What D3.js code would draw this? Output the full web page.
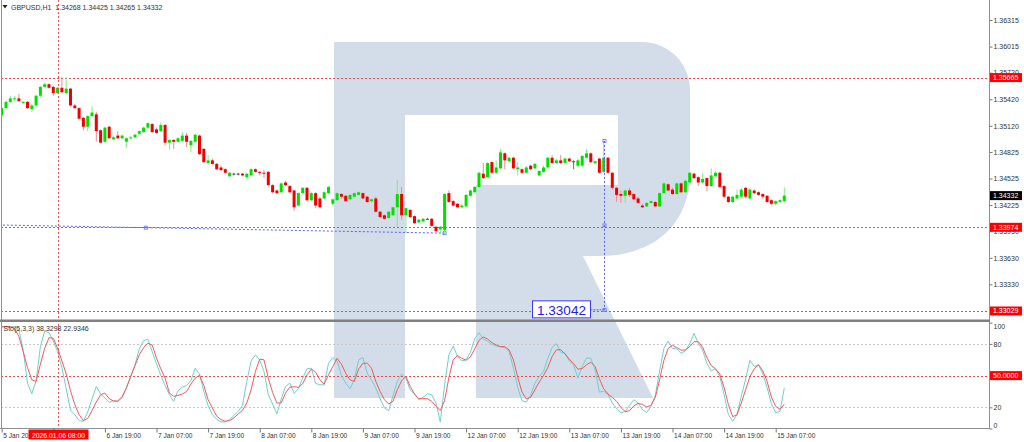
<!DOCTYPE html>
<html><head><meta charset="utf-8">
<script src="https://cdn.jsdelivr.net/npm/d3@7"></script>
<style>html,body{margin:0;padding:0;background:#fff;overflow:hidden}svg{display:block}text{font-family:"Liberation Sans",Arial,sans-serif}</style>
</head><body><svg id="c" width="1024" height="442"></svg>
<script>
const opens=[1.3524,1.3532,1.3539,1.3542,1.3543,1.3538,1.3539,1.3531,1.3535,1.3546,
1.3556,1.3559,1.3556,1.3549,1.3555,1.3549,1.3554,1.3535,1.3532,1.3521,
1.3511,1.3523,1.3525,1.3507,1.3494,1.3511,1.3497,1.3501,1.3498,1.3494,
1.3498,1.3499,1.3503,1.3505,1.3510,1.3514,1.3508,1.3506,1.3513,1.3493,
1.3496,1.3494,1.3495,1.3501,1.3490,1.3494,1.3501,1.3486,1.3470,1.3473,
1.3469,1.3465,1.3463,1.3455,1.3458,1.3458,1.3458,1.3454,1.3456,1.3463,
1.3460,1.3459,1.3460,1.3445,1.3439,1.3437,1.3448,1.3444,1.3439,1.3422,
1.3436,1.3442,1.3428,1.3436,1.3430,1.3430,1.3436,1.3424,1.3428,1.3435,
1.3433,1.3429,1.3432,1.3434,1.3436,1.3432,1.3427,1.3430,1.3415,1.3411,
1.3408,1.3411,1.3420,1.3435,1.3411,1.3417,1.3410,1.3403,1.3404,1.3407,
1.3407,1.3398,1.3395,1.3394,1.3436,1.3427,1.3424,1.3420,1.3421,1.3433,
1.3437,1.3443,1.3458,1.3454,1.3471,1.3459,1.3464,1.3481,1.3472,1.3476,
1.3463,1.3463,1.3459,1.3467,1.3464,1.3456,1.3460,1.3465,1.3476,1.3470,
1.3473,1.3470,1.3475,1.3472,1.3467,1.3467,1.3476,1.3481,1.3470,1.3475,
1.3460,1.3476,1.3459,1.3442,1.3435,1.3433,1.3439,1.3435,1.3430,1.3422,
1.3421,1.3425,1.3426,1.3421,1.3436,1.3446,1.3440,1.3435,1.3447,1.3437,
1.3448,1.3458,1.3454,1.3448,1.3453,1.3444,1.3455,1.3459,1.3444,1.3432,
1.3426,1.3430,1.3432,1.3442,1.3430,1.3439,1.3437,1.3435,1.3433,1.3428,
1.3424,1.3426,1.34268];
const highs=[1.3533,1.3541,1.3546,1.3546,1.3548,1.3540,1.3540,1.3537,1.3547,1.3557,
1.3561,1.3560,1.3557,1.3556,1.3567,1.3567,1.3555,1.3537,1.3533,1.3522,
1.3524,1.3534,1.3528,1.3508,1.3511,1.3512,1.3501,1.3506,1.3502,1.3499,
1.3501,1.3503,1.3507,1.3511,1.3516,1.3515,1.3510,1.3516,1.3514,1.3497,
1.3497,1.3499,1.3505,1.3504,1.3496,1.3503,1.3502,1.3487,1.3479,1.3475,
1.3470,1.3467,1.3464,1.3460,1.3459,1.3459,1.3459,1.3459,1.3464,1.3464,
1.3461,1.3462,1.3461,1.3446,1.3440,1.3448,1.3450,1.3445,1.3440,1.3437,
1.3443,1.3443,1.3437,1.3437,1.3432,1.3438,1.3444,1.3430,1.3437,1.3436,
1.3434,1.3435,1.3437,1.3438,1.3437,1.3433,1.3430,1.3432,1.3416,1.3412,
1.3416,1.3421,1.3451,1.3443,1.3420,1.3418,1.3411,1.3407,1.3408,1.3408,
1.3408,1.3399,1.3399,1.3436,1.3439,1.3428,1.3425,1.3424,1.3435,1.3440,
1.3444,1.3460,1.3470,1.3471,1.3472,1.3473,1.3486,1.3482,1.3477,1.3477,
1.3471,1.3464,1.3467,1.3468,1.3470,1.3462,1.3467,1.3477,1.3479,1.3475,
1.3479,1.3476,1.3476,1.3473,1.3475,1.3479,1.3486,1.3482,1.3473,1.3476,
1.3495,1.3477,1.3460,1.3443,1.3439,1.3440,1.3442,1.3436,1.3432,1.3424,
1.3426,1.3428,1.3427,1.3437,1.3448,1.3447,1.3442,1.3448,1.3448,1.3451,
1.3460,1.3459,1.3455,1.3459,1.3454,1.3464,1.3461,1.3460,1.3445,1.3433,
1.3433,1.3440,1.3442,1.3443,1.3442,1.3440,1.3438,1.3436,1.3434,1.3429,
1.3428,1.3429,1.34425];
const lows=[1.3522,1.3530,1.3538,1.3540,1.3539,1.3537,1.3531,1.3528,1.3534,1.3544,
1.3555,1.3554,1.3546,1.3548,1.3549,1.3548,1.3534,1.3531,1.3519,1.3507,
1.3506,1.3522,1.3494,1.3492,1.3493,1.3497,1.3496,1.3497,1.3497,1.3487,
1.3497,1.3498,1.3502,1.3504,1.3508,1.3504,1.3503,1.3505,1.3490,1.3485,
1.3486,1.3493,1.3494,1.3488,1.3482,1.3493,1.3479,1.3470,1.3469,1.3468,
1.3462,1.3461,1.3458,1.3454,1.3456,1.3456,1.3455,1.3451,1.3455,1.3459,
1.3456,1.3453,1.3444,1.3436,1.3435,1.3436,1.3444,1.3436,1.3416,1.3421,
1.3435,1.3427,1.3427,1.3419,1.3419,1.3429,1.3435,1.3422,1.3427,1.3430,
1.3426,1.3428,1.3430,1.3433,1.3429,1.3425,1.3426,1.3414,1.3408,1.3406,
1.3407,1.3410,1.3398,1.3406,1.3391,1.3408,1.3401,1.3402,1.3403,1.3406,
1.3398,1.3392,1.3391,1.3391,1.3425,1.3421,1.3419,1.3419,1.3420,1.3432,
1.3436,1.3442,1.3452,1.3453,1.3458,1.3458,1.3463,1.3463,1.3471,1.3463,
1.3456,1.3458,1.3458,1.3462,1.3463,1.3455,1.3459,1.3464,1.3469,1.3469,
1.3469,1.3469,1.3471,1.3463,1.3465,1.3465,1.3475,1.3470,1.3469,1.3458,
1.3459,1.3458,1.3440,1.3426,1.3425,1.3425,1.3432,1.3428,1.3424,1.3419,
1.3420,1.3424,1.3420,1.3420,1.3435,1.3438,1.3434,1.3434,1.3436,1.3436,
1.3447,1.3452,1.3444,1.3447,1.3438,1.3443,1.3454,1.3442,1.3430,1.3425,
1.3425,1.3429,1.3430,1.3430,1.3429,1.3435,1.3433,1.3430,1.3425,1.3422,
1.3422,1.3425,1.34265];
const closes=[1.3532,1.3539,1.3543,1.3543,1.3540,1.3539,1.3532,1.3535,1.3546,1.3556,
1.3559,1.3555,1.3549,1.3555,1.3550,1.3554,1.3535,1.3532,1.3520,1.3511,
1.3523,1.3527,1.3506,1.3493,1.3510,1.3498,1.3499,1.3498,1.3501,1.3498,
1.3499,1.3502,1.3506,1.3510,1.3515,1.3505,1.3504,1.3513,1.3493,1.3496,
1.3494,1.3498,1.3501,1.3494,1.3495,1.3502,1.3480,1.3471,1.3473,1.3469,
1.3463,1.3462,1.3459,1.3459,1.3458,1.3458,1.3456,1.3458,1.3463,1.3460,
1.3459,1.3458,1.3445,1.3437,1.3436,1.3447,1.3445,1.3437,1.3420,1.3436,
1.3442,1.3428,1.3436,1.3422,1.3420,1.3437,1.3443,1.3429,1.3436,1.3432,
1.3427,1.3434,1.3436,1.3437,1.3430,1.3426,1.3429,1.3415,1.3409,1.3407,
1.3415,1.3420,1.3435,1.3411,1.3419,1.3409,1.3402,1.3406,1.3407,1.3407,
1.3399,1.3393,1.3398,1.3435,1.3426,1.3422,1.3420,1.3422,1.3434,1.3439,
1.3443,1.3459,1.3453,1.3470,1.3459,1.3465,1.3482,1.3473,1.3476,1.3464,
1.3465,1.3459,1.3465,1.3463,1.3469,1.3461,1.3465,1.3476,1.3470,1.3473,
1.3470,1.3475,1.3472,1.3472,1.3473,1.3478,1.3481,1.3471,1.3472,1.3459,
1.3476,1.3459,1.3442,1.3434,1.3433,1.3439,1.3434,1.3429,1.3425,1.3420,
1.3425,1.3427,1.3421,1.3436,1.3447,1.3439,1.3435,1.3447,1.3437,1.3450,
1.3459,1.3453,1.3448,1.3452,1.3444,1.3456,1.3459,1.3443,1.3432,1.3426,
1.3432,1.3434,1.3440,1.3432,1.3440,1.3436,1.3434,1.3432,1.3426,1.3424,
1.3427,1.3428,1.34332];
const stochK=[96.2,96.2,96.2,96.2,93.1,74.3,42.9,32.9,45.1,77.4,
92.1,90.6,82.7,72.7,57.6,37.6,17.2,13.1,7.5,6.8,
15.6,27.9,39.8,32.6,28.8,24.7,26.3,26.0,30.4,38.8,
48.9,60.2,75.2,83.1,84.3,72.7,61.1,50.1,40.7,31.9,
25.7,35.7,39.1,40.7,45.1,57.0,51.4,35.1,21.6,13.1,
8.7,6.2,6.2,8.4,12.2,16.3,21.9,44.5,63.9,69.6,
64.9,53.9,31.9,23.2,13.7,27.9,39.8,42.9,33.2,37.6,
47.6,56.4,57.0,42.6,41.3,41.3,61.7,67.1,63.9,50.1,
42.9,37.6,46.0,64.9,67.1,52.3,45.7,38.2,28.2,19.4,
16.9,31.0,44.5,51.4,47.6,36.3,32.6,27.2,29.4,32.9,
31.9,24.1,6.2,41.3,69.6,78.0,68.0,63.9,64.9,72.1,
84.6,90.6,84.6,82.4,79.6,78.0,77.1,76.2,72.7,57.0,
38.8,26.3,25.0,31.3,42.9,48.9,53.9,66.4,76.5,80.2,
72.1,71.1,63.9,60.2,47.6,58.6,66.7,66.4,55.5,34.4,
35.1,31.9,24.1,18.8,14.7,16.3,21.9,27.2,24.1,17.8,
15.3,20.9,31.3,54.5,75.8,82.7,75.8,75.2,71.1,73.3,
80.2,90.0,80.5,74.0,61.7,54.5,56.4,49.2,31.9,13.1,
6.8,13.1,30.4,46.7,64.5,58.6,60.2,51.7,38.8,23.5,
14.7,16.3,38.33];
const stochD=[96.2,96.2,96.2,94.7,86.8,72.7,57.6,46.0,44.5,60.8,
75.8,85.9,85.2,75.8,63.9,51.7,35.7,22.5,13.1,7.5,
9.4,16.9,25.0,31.9,33.5,28.2,26.0,25.7,29.4,38.2,
49.2,59.5,69.6,76.5,80.5,79.0,66.4,56.4,47.6,33.5,
30.4,31.3,32.6,35.1,42.0,47.6,50.4,40.7,27.2,19.4,
11.6,8.4,6.8,7.5,10.0,13.7,17.2,24.1,36.6,53.9,
65.5,64.9,47.6,34.1,24.1,24.1,33.5,39.1,39.5,38.8,
42.3,50.8,56.1,53.3,46.0,42.0,50.8,58.6,66.4,60.8,
52.3,46.0,44.5,56.1,61.7,61.7,57.0,44.5,35.1,27.2,
23.2,25.7,36.6,45.1,49.2,39.8,32.6,28.2,28.2,28.2,
25.7,20.9,16.9,26.3,48.2,64.9,68.9,66.4,64.5,67.7,
75.2,83.4,86.5,84.6,81.2,79.0,77.4,77.4,74.3,64.9,
48.6,34.4,27.9,29.4,36.6,43.9,50.1,57.6,68.0,74.3,
74.6,70.5,65.5,61.4,56.1,56.7,60.2,62.7,58.6,47.0,
37.6,32.6,29.4,25.7,20.0,15.9,16.9,21.3,23.8,22.8,
20.3,21.9,29.4,46.0,64.5,75.8,78.7,76.5,74.0,74.3,
77.4,82.1,82.1,76.8,67.1,59.5,56.4,51.4,38.8,22.5,
11.2,13.1,24.1,36.6,48.9,56.4,60.2,54.5,44.5,29.7,
20.9,18.1,22.93];
const priceTicks=[1.36315,1.36015,1.35720,1.35420,1.35120,1.34825,1.34525,1.34225,1.33930,1.33630,1.33330];
const timeTickIdx=[0,12,24,36,48,60,72,84,96,108,120,132,144,156,168,180];
const timeTickLabels=["5 Jan 2026","","6 Jan 19:00","7 Jan 07:00","7 Jan 19:00","8 Jan 07:00","8 Jan 19:00","9 Jan 07:00","9 Jan 19:00","12 Jan 07:00","12 Jan 19:00","13 Jan 07:00","13 Jan 19:00","14 Jan 07:00","14 Jan 19:00","15 Jan 07:00"];
const stochTicks=[100,80,20,0];
const stochLevels=[80,20];
const redLevels=[1.35665,1.33974,1.33029];
const lastPrice=1.34332;
const headerText="GBPUSD,H1  1.34268 1.34425 1.34265 1.34332";
const stochTitle="Sto(5,3,3) 38.3298 22.9346";
const crossIdx=13, crossLabel="2026.01.06 08:00";
const trendPts=[[-36,1.34032],[103,1.33908]];
const vlineIdx=140, vlinePrices=[1.3495,1.33042], vlineLabel="1.33042";

const svg=d3.select("#c");
const W=1024,H=442, L=1, R=989.5;
const x=d3.scaleLinear().domain([0,182]).range([1.7,784.3]);
const y=d3.scaleLinear().domain([1.3295,1.36541]).range([318,0]);
const ys=d3.scaleLinear().domain([0,100]).range([428.5,322.7]);
const fmt=d3.format(".5f");

svg.append("rect").attr("width",W).attr("height",H).attr("fill","#fff");
// watermark logo
svg.append("path").attr("fill","#d3dde9")
 .attr("d","M334,42 H642 A48,48 0 0 1 690,90 V172 C690,228 650,256 600,256 H583 L653,398 H476 V185 H618 V115 H405 V398 H334 Z");

const defs=svg.append("defs");
defs.append("clipPath").attr("id","cm").append("rect").attr("x",L).attr("y",0).attr("width",R-L).attr("height",319);
defs.append("clipPath").attr("id","cs").append("rect").attr("x",L).attr("y",322).attr("width",R-L).attr("height",106.5);

const gm=svg.append("g").attr("clip-path","url(#cm)");
gm.selectAll("line.lv").data(redLevels).join("line")
 .attr("x1",L).attr("x2",R).attr("y1",d=>Math.round(y(d))+0.5).attr("y2",d=>Math.round(y(d))+0.5)
 .attr("stroke","#f04848").attr("stroke-dasharray","2,2");
gm.append("line").attr("x1",x(trendPts[0][0])).attr("y1",y(trendPts[0][1]))
 .attr("x2",x(trendPts[1][0])).attr("y2",y(trendPts[1][1]))
 .attr("stroke","#5560ff").attr("stroke-dasharray","2,2");
const tmid=[(trendPts[0][0]+trendPts[1][0])/2,(trendPts[0][1]+trendPts[1][1])/2];
[trendPts[1],tmid].forEach(p=>gm.append("rect").attr("x",x(p[0])-1.5).attr("y",y(p[1])-1.5).attr("width",3).attr("height",3).attr("fill","none").attr("stroke","#6a70ff").attr("stroke-width",0.8));

const idx=d3.range(opens.length);
const bull="#00e000", bear="#f00000";
gm.selectAll("line.wk").data(idx).join("line")
 .attr("x1",i=>x(i)).attr("x2",i=>x(i)).attr("y1",i=>y(highs[i])).attr("y2",i=>y(lows[i]))
 .attr("stroke",i=>opens[i]===closes[i]?"#707070":(closes[i]>opens[i]?"#7ff07f":"#f08a8a")).attr("stroke-width",1);
gm.selectAll("rect.bd").data(idx).join("rect")
 .attr("x",i=>x(i)-1.5).attr("width",3)
 .attr("y",i=>y(Math.max(opens[i],closes[i])))
 .attr("height",i=>Math.max(1,Math.abs(y(opens[i])-y(closes[i]))))
 .attr("fill",i=>opens[i]===closes[i]?"#505050":(closes[i]>opens[i]?bull:bear));

const vx=Math.round(x(vlineIdx))+0.5;
gm.append("line").attr("x1",vx).attr("x2",vx).attr("y1",y(vlinePrices[0])).attr("y2",y(vlinePrices[1]))
 .attr("stroke","#5560ff").attr("stroke-dasharray","2,2");
[vlinePrices[0],(vlinePrices[0]+vlinePrices[1])/2,vlinePrices[1]].forEach(p=>gm.append("rect").attr("x",vx-1.5).attr("y",y(p)-1.5).attr("width",3).attr("height",3).attr("fill","none").attr("stroke","#6a70ff").attr("stroke-width",0.8));
gm.append("line").attr("x1",vx-14).attr("x2",vx).attr("y1",y(vlinePrices[1])).attr("y2",y(vlinePrices[1])).attr("stroke","#5560ff").attr("stroke-dasharray","2,1");
svg.append("rect").attr("x",vx-72).attr("y",y(vlinePrices[1])-9).attr("width",58).attr("height",17).attr("fill","#fff").attr("stroke","#3a3aff").attr("stroke-width",1);
svg.append("text").attr("x",vx-43).attr("y",y(vlinePrices[1])+5).attr("text-anchor","middle").attr("font-size",13.5).attr("fill","#2020f0").text(vlineLabel);

const gs=svg.append("g").attr("clip-path","url(#cs)");
gs.selectAll("line.sl").data(stochLevels).join("line")
 .attr("x1",L).attr("x2",R).attr("y1",d=>Math.round(ys(d))+0.5).attr("y2",d=>Math.round(ys(d))+0.5)
 .attr("stroke","#c8c8c8").attr("stroke-dasharray","2,2");
gs.append("line").attr("x1",L).attr("x2",R).attr("y1",Math.round(ys(50))+0.5).attr("y2",Math.round(ys(50))+0.5)
 .attr("stroke","#f04848").attr("stroke-dasharray","2,2");
const ln=d3.line().x((d,i)=>x(i));
gs.append("path").attr("d",ln.y(d=>ys(d))(stochK)).attr("fill","none").attr("stroke","#6fcfcf").attr("stroke-width",1);
gs.append("path").attr("d",ln.y(d=>ys(d))(stochD)).attr("fill","none").attr("stroke","#f25a5a").attr("stroke-width",1);

const cx=Math.round(x(crossIdx))+0.5;
svg.append("line").attr("x1",cx).attr("x2",cx).attr("y1",0).attr("y2",428).attr("stroke","#f05050").attr("stroke-dasharray","2,2");

svg.append("line").attr("x1",1.5).attr("x2",1.5).attr("y1",0).attr("y2",429).attr("stroke","#909090");
svg.append("line").attr("x1",R).attr("x2",R).attr("y1",0).attr("y2",429).attr("stroke","#909090");
svg.append("rect").attr("x",0).attr("y",319.5).attr("width",R+0.5).attr("height",2.5).attr("fill","#808080");
svg.append("line").attr("x1",0).attr("x2",R).attr("y1",428.5).attr("y2",428.5).attr("stroke","#909090");

const pa=svg.append("g").attr("transform",`translate(${R},0)`)
 .call(d3.axisRight(y).tickValues(priceTicks).tickFormat(fmt).tickSize(3).tickPadding(1));
pa.select(".domain").remove();
pa.selectAll("line").attr("stroke","#777");
pa.selectAll("text").attr("font-size",7).attr("fill","#333").attr("font-family","Liberation Sans, Arial, sans-serif");

const sa=svg.append("g").attr("transform",`translate(${R},0)`)
 .call(d3.axisRight(ys).tickValues(stochTicks).tickSize(3).tickPadding(1));
sa.select(".domain").remove();
sa.selectAll("line").attr("stroke","#777");
sa.selectAll("text").attr("font-size",7).attr("fill","#333").attr("font-family","Liberation Sans, Arial, sans-serif")
 .attr("dy",d=>d===100?"0.9em":(d===0?"-0.1em":"0.32em"));

const ta=svg.append("g").attr("transform","translate(0,428.5)")
 .call(d3.axisBottom(x).tickValues(timeTickIdx).tickFormat((d,i)=>timeTickLabels[i]).tickSize(4).tickPadding(2));
ta.select(".domain").remove();
ta.selectAll("line").attr("stroke","#777");
ta.selectAll("text").attr("font-size",6.6).attr("fill","#333").attr("text-anchor","start").attr("dx",1).attr("dy","0.55em")
 .attr("font-family","Liberation Sans, Arial, sans-serif");

function box(v,yy,bg,fg){
  const g=svg.append("g");
  g.append("rect").attr("x",R+0.5).attr("y",yy-4.5).attr("width",32).attr("height",9).attr("fill",bg);
  g.append("text").attr("x",R+3.5).attr("y",yy).attr("dy","0.35em").attr("font-size",7).attr("fill",fg).text(v);
}
redLevels.forEach(p=>box(fmt(p),y(p),"#ff0000","#fff"));
box(fmt(lastPrice),y(lastPrice),"#000","#fff");
box("50.0000",ys(50),"#ff0000","#fff");

svg.append("rect").attr("x",cx-30).attr("y",429.5).attr("width",60).attr("height",10).attr("fill","#ff0000");
svg.append("text").attr("x",cx).attr("y",437.5).attr("text-anchor","middle").attr("font-size",6.8).attr("fill","#fff").text(crossLabel);

svg.append("path").attr("d","M2.5,5 L7.5,5 L5,8.5 Z").attr("fill","#222");
svg.append("text").attr("x",11).attr("y",9.5).attr("font-size",7).attr("fill","#333").style("white-space","pre").text(headerText);
svg.append("text").attr("x",3.5).attr("y",331).attr("font-size",7).attr("fill","#333").text(stochTitle);
</script></body></html>
